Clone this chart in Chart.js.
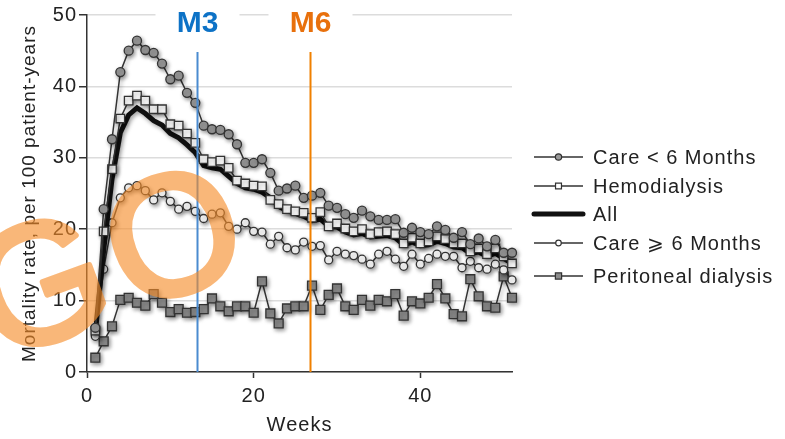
<!DOCTYPE html>
<html>
<head>
<meta charset="utf-8">
<script src="https://cdn.jsdelivr.net/npm/chart.js@4.4.0/dist/chart.umd.min.js"></script>
<style>
  html, body { margin: 0; padding: 0; background: #fff; }
  #wrap { width: 785px; height: 439px; }
</style>
</head>
<body>
<div id="wrap"><canvas id="mortality"></canvas></div>
<script>
const weeks = [1, 2, 3, 4, 5, 6, 7, 8, 9, 10, 11, 12, 13, 14, 15, 16, 17, 18, 19, 20,
  21, 22, 23, 24, 25, 26, 27, 28, 29, 30, 31, 32, 33, 34, 35, 36, 37, 38, 39, 40,
  41, 42, 43, 44, 45, 46, 47, 48, 49, 50, 51];

const careUnder6 = [6.2, 22.8, 32.6, 42.0, 45.0, 46.4, 45.1, 44.7, 43.2, 41.0,
  41.5, 39.1, 37.7, 34.5, 34.0, 33.9, 33.3, 31.9, 29.3, 29.3,
  29.8, 27.9, 25.4, 25.7, 26.1, 24.4, 24.7, 25.1, 23.3, 23.0,
  22.1, 21.6, 22.6, 21.8, 21.3, 21.3, 21.4, 19.5, 20.2, 19.6,
  19.3, 20.4, 19.9, 18.8, 19.6, 17.9, 18.7, 17.6, 18.5, 16.7, 16.7];

const hemodialysis = [5.8, 19.7, 28.4, 35.5, 38.0, 38.7, 38.0, 36.8, 36.8, 34.7,
  34.5, 33.4, 32.1, 29.8, 29.4, 29.6, 28.6, 26.8, 26.4, 26.1,
  26.0, 24.1, 23.5, 22.8, 22.5, 22.3, 21.6, 22.4, 20.4, 20.8,
  20.1, 19.7, 20.0, 19.3, 19.6, 19.7, 19.3, 18.0, 18.8, 18.0,
  18.3, 19.0, 18.6, 18.0, 18.0, 16.9, 17.3, 16.5, 17.3, 16.2, 15.2];

const allPatients = [5.5, 17.0, 27.0, 33.5, 36.0, 37.0, 36.2, 35.2, 34.6, 33.4,
  32.8, 31.8, 30.7, 28.9, 28.6, 28.4, 27.4, 26.4, 25.8, 25.6,
  25.2, 24.4, 23.2, 22.6, 22.2, 21.8, 21.2, 21.4, 20.4, 20.3,
  19.6, 19.2, 19.4, 18.9, 19.0, 19.1, 18.8, 17.8, 18.2, 17.7,
  17.8, 18.3, 18.0, 17.5, 17.4, 16.6, 16.8, 16.2, 16.6, 15.9, 15.2];

const care6Plus = [5.0, 14.4, 20.9, 24.4, 25.8, 26.1, 25.4, 24.1, 25.1, 23.9,
  22.8, 23.2, 22.5, 21.5, 22.1, 22.3, 20.4, 20.0, 20.9, 19.7,
  19.6, 17.9, 19.0, 17.4, 17.1, 18.2, 17.6, 17.7, 15.7, 16.9,
  16.5, 16.3, 15.8, 15.1, 16.5, 16.9, 15.8, 14.8, 16.5, 15.1,
  15.9, 16.5, 16.2, 16.2, 14.6, 15.5, 14.6, 14.4, 15.1, 14.3, 12.9];

const peritoneal = [2.0, 4.3, 6.4, 10.1, 10.4, 9.7, 9.3, 10.9, 9.7, 8.4,
  8.8, 8.3, 8.4, 8.8, 10.3, 9.2, 8.5, 9.2, 9.2, 8.3,
  12.7, 8.2, 6.8, 8.9, 9.2, 9.2, 12.1, 8.7, 10.8, 11.7,
  9.2, 8.7, 10.1, 9.3, 10.1, 9.9, 10.9, 7.9, 9.9, 9.6,
  10.4, 12.3, 10.3, 8.1, 7.8, 13.0, 10.6, 9.2, 9.0, 13.4, 10.4];

const seriesNames = ['Care < 6 Months', 'Hemodialysis', 'All', 'Care \u2A7E 6 Months', 'Peritoneal dialysis'];
const markWeeks = [13.2, 26.7];
const markNames = ['M3', 'M6'];
const xTicks = [0, 20, 40];
const yTicks = [0, 10, 20, 30, 40, 50];

const FONT = '"Liberation Sans", Arial, Helvetica, sans-serif';
Chart.defaults.font.family = FONT;
Chart.defaults.font.size = 20;
Chart.defaults.color = '#222';

function series(label, values, style) {
  return Object.assign({
    label: label,
    data: weeks.map((w, i) => ({ x: w, y: values[i] })),
    borderColor: '#333',
    borderWidth: 1.5,
    pointBorderColor: '#333',
    pointBorderWidth: 1.3,
    pointHoverRadius: 0,
    tension: 0,
    clip: false
  }, style);
}

// first dataset ends up drawn on top
const datasets = [
  series(seriesNames[0], careUnder6, { pointStyle: 'circle', pointRadius: 4.5, pointBackgroundColor: '#9a9a9a' }),
  series(seriesNames[1], hemodialysis, { pointStyle: 'rect', pointRadius: 6, pointBackgroundColor: '#fff' }),
  series(seriesNames[2], allPatients, { pointRadius: 0, borderWidth: 5, borderColor: '#111' }),
  series(seriesNames[3], care6Plus, { pointStyle: 'circle', pointRadius: 4, pointBackgroundColor: '#fff' }),
  series(seriesNames[4], peritoneal, { pointStyle: 'rect', pointRadius: 6.3, pointBackgroundColor: '#8c8c8c' })
];

// wider text spacing; canvas resets lose it, so set it again before layout and draw
const spacing = {
  id: 'spacing',
  beforeLayout(chart) { chart.ctx.letterSpacing = '1px'; },
  beforeDraw(chart) { chart.ctx.letterSpacing = '1px'; }
};

const shadow = {
  id: 'shadow',
  beforeDatasetsDraw(chart) {
    const ctx = chart.ctx;
    ctx.save();
    ctx.shadowColor = 'rgba(0,0,0,0.4)';
    ctx.shadowBlur = 4;
    ctx.shadowOffsetX = 1.5;
    ctx.shadowOffsetY = 2;
  },
  afterDatasetsDraw(chart) { chart.ctx.restore(); }
};

const markers = {
  id: 'markers',
  afterDatasetsDraw(chart) {
    const ctx = chart.ctx;
    const x = chart.scales.x;
    const lineColors = ['#4b8bd0', '#f08000'];
    const textColors = ['#0d72c6', '#e8700c'];
    markWeeks.forEach((w, i) => {
      const px = Math.round(x.getPixelForValue(w)) + 0.5;
      ctx.save();
      ctx.strokeStyle = lineColors[i];
      ctx.lineWidth = 2;
      ctx.beginPath();
      ctx.moveTo(px, 52);
      ctx.lineTo(px, chart.chartArea.bottom);
      ctx.stroke();
      ctx.fillStyle = '#fff';
      ctx.fillRect(px - 42, 0, 84, 40);
      ctx.letterSpacing = '0px';
      ctx.fillStyle = textColors[i];
      ctx.font = 'bold 30px ' + FONT;
      ctx.textAlign = 'center';
      ctx.textBaseline = 'middle';
      ctx.fillText(markNames[i], px, 24);
      ctx.restore();
    });
  }
};

const legendBox = {
  id: 'legendBox',
  afterDraw(chart) {
    const ctx = chart.ctx;
    const rows = [157, 186, 214, 243, 276];
    chart.data.datasets.forEach((ds, i) => {
      const y = rows[i];
      ctx.save();
      ctx.strokeStyle = ds.borderColor;
      ctx.lineWidth = ds.borderWidth;
      ctx.lineCap = ds.borderWidth > 2 ? 'round' : 'butt';
      ctx.beginPath();
      ctx.moveTo(534, y);
      ctx.lineTo(583, y);
      ctx.stroke();
      if (ds.pointRadius > 0) {
        ctx.fillStyle = ds.pointBackgroundColor;
        ctx.strokeStyle = '#333';
        ctx.lineWidth = 1.2;
        Chart.helpers.drawPoint(ctx, {
          pointStyle: ds.pointStyle,
          radius: ds.pointRadius * 0.7,
          rotation: 0,
          borderWidth: 1.2
        }, 558.5, y);
      }
      ctx.letterSpacing = '1px';
      ctx.fillStyle = '#222';
      ctx.font = '20px ' + FONT;
      ctx.textAlign = 'left';
      ctx.textBaseline = 'middle';
      ctx.fillText(ds.label, 593, y + 1);
      ctx.restore();
    });
  }
};

// orange "GO" stamp laid over the plot; drawn opaque off-screen with a
// thickening stroke, then composited once so the overlap doesn't darken
const stamp = {
  id: 'stamp',
  afterDraw(chart) {
    const ctx = chart.ctx;
    const off = document.createElement('canvas');
    off.width = chart.width;
    off.height = chart.height;
    const o = off.getContext('2d');
    o.letterSpacing = '10px';
    o.translate(-3, 361);
    o.rotate(-20 * Math.PI / 180);
    o.font = '170px ' + FONT;
    o.fillStyle = o.strokeStyle = 'rgb(246,140,40)';
    o.lineWidth = 6;
    o.lineJoin = 'round';
    o.fillText('GO', 0, 0);
    o.strokeText('GO', 0, 0);
    ctx.save();
    ctx.globalAlpha = 0.62;
    ctx.drawImage(off, 0, 0);
    ctx.restore();
  }
};

new Chart(document.getElementById('mortality'), {
  type: 'line',
  data: { datasets: datasets },
  plugins: [spacing, shadow, markers, legendBox, stamp],
  options: {
    responsive: true,
    maintainAspectRatio: false,
    animation: false,
    devicePixelRatio: 1,
    layout: { padding: { left: 0, right: 273, top: 15, bottom: 0 } },
    plugins: { legend: { display: false }, tooltip: { enabled: false } },
    scales: {
      x: {
        type: 'linear',
        min: 0,
        max: 51,
        afterFit: (s) => { s.height = 67; },
        afterBuildTicks: (s) => { s.ticks = xTicks.map(v => ({ value: v })); },
        ticks: { color: '#222', padding: 6, maxRotation: 0 },
        grid: { drawOnChartArea: false, drawTicks: true, tickLength: 6, tickColor: '#333', tickWidth: 1.5 },
        border: { color: '#333', width: 1.5 },
        title: { display: true, text: 'Weeks', color: '#222', font: { size: 20 }, padding: { top: 0, bottom: 2 } }
      },
      y: {
        min: 0,
        max: 50,
        afterFit: (s) => { s.width = 87; },
        afterBuildTicks: (s) => { s.ticks = yTicks.map(v => ({ value: v })); },
        ticks: { color: '#222', padding: 2 },
        grid: { color: '#dcdcdc', lineWidth: 1.5, tickLength: 8, tickColor: '#333', tickWidth: 1.5 },
        border: { color: '#333', width: 1.5 },
        title: { display: true, text: 'Mortality rate, per 100 patient-years', color: '#222', font: { size: 19 }, padding: { top: 18, bottom: 0 } }
      }
    }
  }
});
</script>
</body>
</html>
